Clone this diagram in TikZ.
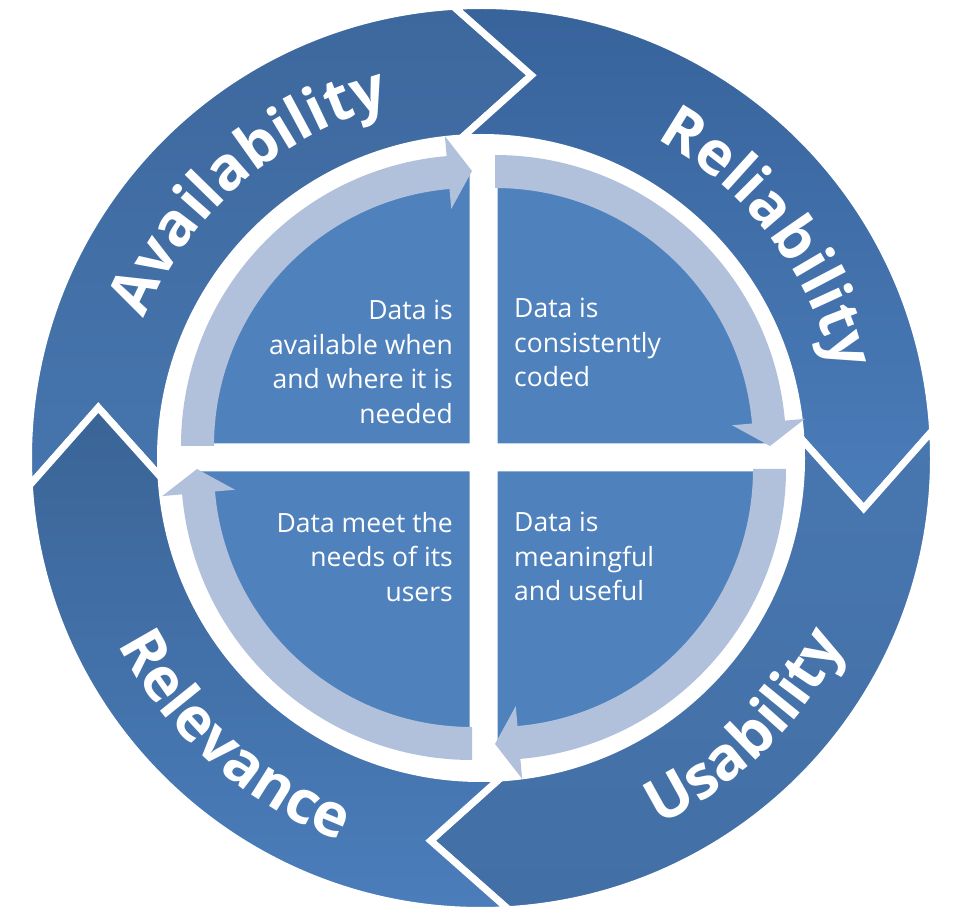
\documentclass[tikz,border=0pt]{standalone}
\usepackage{fontspec}
\setmainfont{Open Sans}
\usepackage{tikz}
\usetikzlibrary{decorations.text}

\definecolor{quadblue}{HTML}{4F81BD}
\definecolor{arrowlight}{HTML}{B1C1DC}
\definecolor{availtop}{HTML}{3D689E}
\definecolor{availbot}{HTML}{4675AD}
\definecolor{relitop}{HTML}{37629A}
\definecolor{relibot}{HTML}{4B7DBA}
\definecolor{usabtop}{HTML}{4876AF}
\definecolor{usabbot}{HTML}{426FA5}
\definecolor{relevtop}{HTML}{3A6496}
\definecolor{relevbot}{HTML}{4B7EBC}

\newcommand\ringfont{\color{white}\bfseries\fontsize{60}{72}\selectfont}
\newcommand\cellfont{\fontsize{26.5}{34.6}\selectfont}

% one chevron of the outer ring: #1 head angle, #2/#3 shading
\newcommand\ringpart[3]{%
  \path[ringseg, top color=#2, bottom color=#3]
    (#1+90:452.5) arc[start angle=#1+90, end angle=#1, radius=452.5]
    -- (#1-11:386) -- (#1:320.5)
    arc[start angle=#1, end angle=#1+90, radius=320.5]
    -- (#1+79:386) -- cycle;}

% quarter disc and its curved arrow: #1 corner, #2 start angle
\newcommand\quadcell[2]{%
  \begin{scope}[shift={#1}]
    \path[quadfill] (0,0) -- (#2:275)
      arc[start angle=#2, end angle=#2-90, radius=275] -- cycle;
    \fill[arrowlight] (#2:291)
      arc[start angle=#2, end angle=#2-85, radius=291]
      -- (#2-85:311) -- (#2-90:275) -- (#2-85:238) -- (#2-85:258)
      arc[start angle=#2-85, end angle=#2, radius=258] -- cycle;
  \end{scope}}

\begin{document}
\begin{tikzpicture}[x=1pt, y=1pt,
    ringseg/.style={draw=white, line width=7pt, line join=miter},
    quadfill/.style={fill=quadblue, draw=white, line width=5pt},
    celltext/.style={text=white, inner sep=0pt, font=\cellfont}]
  \useasboundingbox (0,0) rectangle (960,916);

  % Outer ring
  \begin{scope}[shift={(481,458)}]
    \ringpart{93.5}{availtop}{availbot}
    \ringpart{3.5}{relitop}{relibot}
    \ringpart{-86.5}{usabtop}{usabbot}
    \ringpart{183.5}{relevtop}{relevbot}

    % Ring labels
    \path[decorate, decoration={text along path, text align=center,
        text={|\ringfont|Availability}}]
      (211:364) arc[start angle=211, end angle=51, radius=364];
    \path[decorate, decoration={text along path, text align=center,
        text={|\ringfont|Reliability}}]
      (117.5:364) arc[start angle=117.5, end angle=-42.5, radius=364];
    \path[decorate, decoration={text along path, text align=center,
        text={|\ringfont|Usability}}]
      (-125.5:408) arc[start angle=-125.5, end angle=34.5, radius=408];
    \path[decorate, decoration={text along path, text align=center,
        text={|\ringfont|Relevance}}]
      (148.5:408) arc[start angle=148.5, end angle=308.5, radius=408];
  \end{scope}

  % Inner cycle
  \quadcell{(472,470)}{180}
  \quadcell{(495,470)}{90}
  \quadcell{(495,447)}{0}
  \quadcell{(472,447)}{-90}

  \node[celltext, anchor=north east, align=right] (avail) at (453,616)
    {Data is\\available when\\and where it is\\needed};
  \node[celltext, anchor=north west, align=left] (reli) at (514,618)
    {Data is\\consistently\\coded};
  \node[celltext, anchor=north west, align=left] (usab) at (514,404)
    {Data is\\meaningful\\and useful};
  \node[celltext, anchor=north east, align=right] (relev) at (453,404)
    {Data meet the\\needs of its\\users};
\end{tikzpicture}
\end{document}
